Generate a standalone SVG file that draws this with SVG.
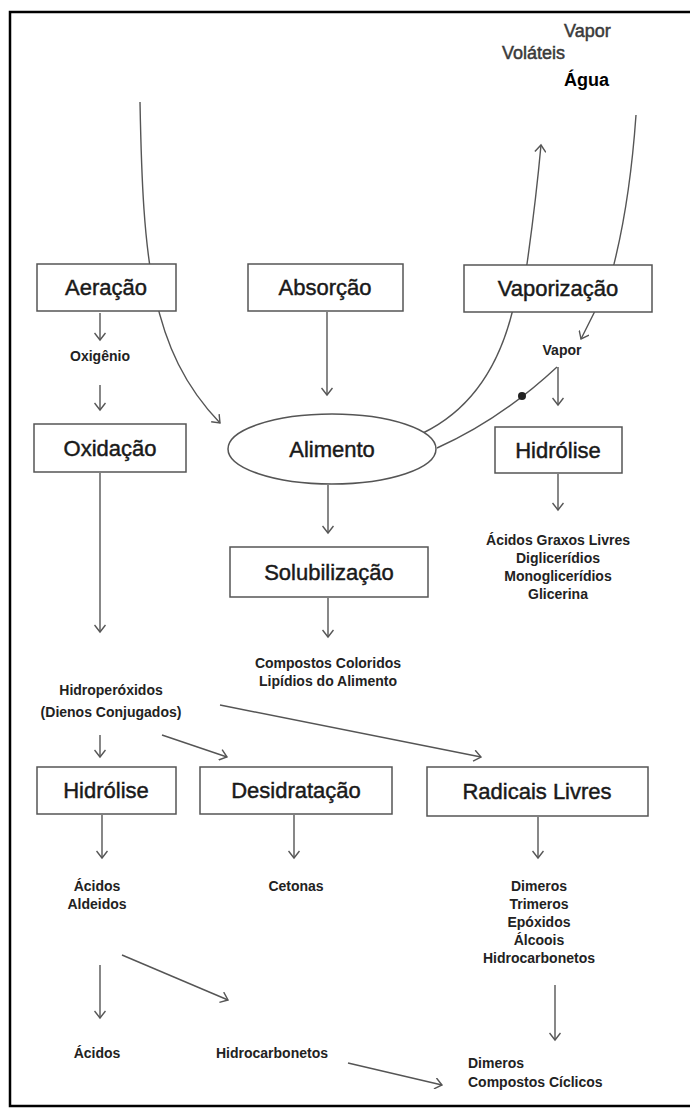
<svg xmlns="http://www.w3.org/2000/svg" width="690" height="1108" viewBox="0 0 690 1108">
<style>
.box{fill:#fff;stroke:#555;stroke-width:1.5}
.lbl{font-family:"Liberation Sans",Arial,sans-serif;font-size:22px;fill:#1a1a1a;stroke:#1a1a1a;stroke-width:0.45;text-anchor:middle}
.sm{font-family:"Liberation Sans",Arial,sans-serif;font-size:14px;font-weight:bold;fill:#222;text-anchor:middle}
.top{font-family:"Liberation Sans",Arial,sans-serif;font-size:18px;fill:#3a3a3a;stroke:#3a3a3a;stroke-width:0.5}
.ln{fill:none;stroke:#555;stroke-width:1.4}
.ar{fill:none;stroke:#555;stroke-width:1.4;marker-end:url(#v)}
</style>
<defs>
<marker id="v" viewBox="0 0 12 12" refX="10" refY="6" markerWidth="12" markerHeight="12" markerUnits="userSpaceOnUse" orient="auto">
<path d="M3,0.5 L10,6 L3,11.5" fill="none" stroke="#555" stroke-width="1.4"/>
</marker>
</defs>
<rect x="10" y="12" width="690" height="1094" fill="#fff" stroke="#000" stroke-width="2.5"/>
<g id="top-labels">
<text class="top" x="564" y="37">Vapor</text>
<text class="top" x="502" y="59">Voláteis</text>
<text class="top" x="564" y="86" style="font-weight:bold;fill:#000;stroke:none">Água</text>
</g>
<g id="connectors">
<path class="ar" d="M140,102 C143,260 150,350 220,423"/>
<path class="ar" d="M423,433 C460,415 495,380 512,313 L527,264 Q536,200 541,145"/>
<path class="ar" d="M636,115 Q630,200 614,264 L594,313 L581,339"/>
<path class="ln" d="M437,448 Q500,420 557,367"/>
<circle cx="522" cy="396" r="4" fill="#222"/>
<path class="ar" d="M558,367 L558,405"/>
<path class="ar" d="M100,313 L100,340"/>
<path class="ar" d="M100,385 L100,410"/>
<path class="ar" d="M327,312 L327,395"/>
<path class="ar" d="M328,485 L328,533"/>
<path class="ar" d="M328,598 L328,637"/>
<path class="ar" d="M558,474 L558,510"/>
<path class="ar" d="M100,473 L100,632"/>
<path class="ar" d="M100,735 L100,757"/>
<path class="ar" d="M162,735 L227,757"/>
<path class="ar" d="M220,705 L481,757"/>
<path class="ar" d="M102,815 L102,858"/>
<path class="ar" d="M294,815 L294,858"/>
<path class="ar" d="M538,817 L538,858"/>
<path class="ar" d="M100,965 L100,1018"/>
<path class="ar" d="M122,955 L228,1000"/>
<path class="ar" d="M555,985 L555,1040"/>
<path class="ar" d="M348,1063 L442,1085"/>
</g>
<g id="aeracao"><rect class="box" x="37" y="264" width="139" height="47"/><text class="lbl" x="106" y="295">Aeração</text></g>
<g id="absorcao"><rect class="box" x="248" y="264" width="155" height="47"/><text class="lbl" x="325" y="295">Absorção</text></g>
<g id="vaporizacao"><rect class="box" x="464" y="265" width="188" height="47"/><text class="lbl" x="558" y="296">Vaporização</text></g>
<g id="oxigenio"><text class="sm" x="100" y="361">Oxigênio</text></g>
<g id="vapor"><text class="sm" x="562" y="355">Vapor</text></g>
<g id="oxidacao"><rect class="box" x="34" y="424" width="152" height="48"/><text class="lbl" x="110" y="456">Oxidação</text></g>
<g id="alimento"><ellipse class="box" cx="332" cy="449" rx="104" ry="35"/><text class="lbl" x="332" y="457">Alimento</text></g>
<g id="hidrolise-r"><rect class="box" x="495" y="427" width="127" height="46"/><text class="lbl" x="558" y="458">Hidrólise</text></g>
<g id="acidos-graxos">
<text class="sm" x="558" y="545">Ácidos Graxos Livres</text>
<text class="sm" x="558" y="563">Diglicerídios</text>
<text class="sm" x="558" y="581">Monoglicerídios</text>
<text class="sm" x="558" y="599">Glicerina</text>
</g>
<g id="solubilizacao"><rect class="box" x="230" y="547" width="198" height="50"/><text class="lbl" x="329" y="580">Solubilização</text></g>
<g id="compostos">
<text class="sm" x="328" y="668">Compostos Coloridos</text>
<text class="sm" x="328" y="686">Lipídios do Alimento</text>
</g>
<g id="hidroperoxidos">
<text class="sm" x="111" y="695">Hidroperóxidos</text>
<text class="sm" x="111" y="717">(Dienos Conjugados)</text>
</g>
<g id="hidrolise-l"><rect class="box" x="37" y="767" width="139" height="47"/><text class="lbl" x="106" y="798">Hidrólise</text></g>
<g id="desidratacao"><rect class="box" x="200" y="767" width="192" height="47"/><text class="lbl" x="296" y="798">Desidratação</text></g>
<g id="radicais"><rect class="box" x="427" y="767" width="221" height="49"/><text class="lbl" x="537" y="799">Radicais Livres</text></g>
<g id="acidos-aldeidos">
<text class="sm" x="97" y="891">Ácidos</text>
<text class="sm" x="97" y="909">Aldeidos</text>
</g>
<g id="cetonas"><text class="sm" x="296" y="891">Cetonas</text></g>
<g id="dimeros-lista">
<text class="sm" x="539" y="891">Dimeros</text>
<text class="sm" x="539" y="909">Trimeros</text>
<text class="sm" x="539" y="927">Epóxidos</text>
<text class="sm" x="539" y="945">Álcoois</text>
<text class="sm" x="539" y="963">Hidrocarbonetos</text>
</g>
<g id="acidos"><text class="sm" x="97" y="1058">Ácidos</text></g>
<g id="hidrocarbonetos"><text class="sm" x="272" y="1058">Hidrocarbonetos</text></g>
<g id="dimeros-ciclicos">
<text class="sm" x="468" y="1068" style="text-anchor:start">Dimeros</text>
<text class="sm" x="468" y="1087" style="text-anchor:start">Compostos Cíclicos</text>
</g>
</svg>
